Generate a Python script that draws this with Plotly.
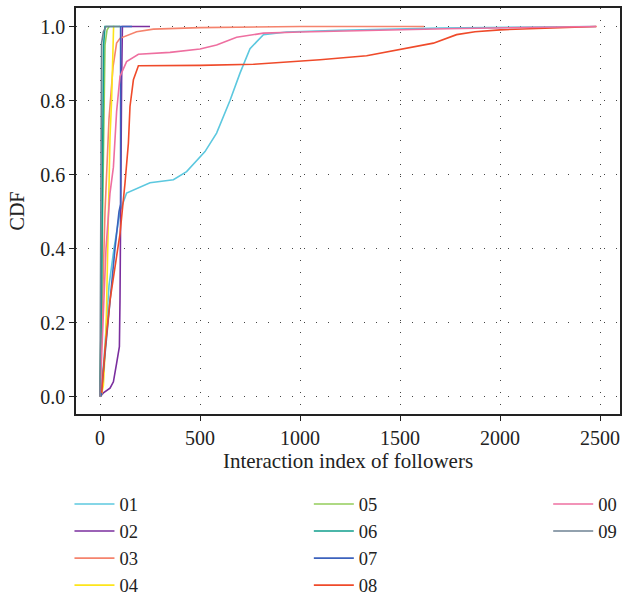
import plotly.graph_objects as go

# Empirical CDF curves of the follower interaction index, one per series
series_names = ["01", "02", "03", "04", "05", "06", "07", "08", "00", "09"]

x_01 = [0, 20, 45, 70, 100, 133, 250, 367, 433, 525, 583, 650, 700, 750, 817, 933, 1200, 1700, 2480]
y_01 = [0.0, 0.10, 0.30, 0.40, 0.50, 0.55, 0.578, 0.586, 0.608, 0.662, 0.712, 0.80, 0.874, 0.94, 0.978, 0.985, 0.99, 0.996, 1.0]

x_02 = [0, 17, 50, 67, 83, 97, 100, 103, 108, 112, 250]
y_02 = [0.0, 0.01, 0.023, 0.04, 0.09, 0.135, 0.26, 0.53, 0.85, 1.0, 1.0]

x_03 = [0, 10, 25, 45, 65, 83, 100, 183, 267, 500, 1000, 1620]
y_03 = [0.0, 0.20, 0.50, 0.75, 0.89, 0.955, 0.968, 0.986, 0.993, 0.997, 1.0, 1.0]

x_04 = [5, 17, 30, 42, 50, 58, 65, 68, 72]
y_04 = [0.0, 0.03, 0.17, 0.53, 0.70, 0.80, 0.95, 1.0, 1.0]

x_05 = [0, 10, 18, 25, 35, 45]
y_05 = [0.0, 0.40, 0.80, 0.95, 0.99, 1.0]

x_06 = [0, 8, 14, 18, 25, 100]
y_06 = [0.0, 0.30, 0.70, 0.95, 1.0, 1.0]

x_07 = [5, 30, 50, 75, 95, 103, 103, 160]
y_07 = [0.0, 0.15, 0.26, 0.40, 0.50, 0.52, 1.0, 1.0]

x_08 = [8, 25, 50, 100, 125, 142, 150, 167, 192, 500, 767, 1000, 1100, 1333, 1500, 1667, 1783, 1875, 2000, 2483]
y_08 = [0.01, 0.126, 0.26, 0.44, 0.577, 0.685, 0.784, 0.856, 0.894, 0.895, 0.898, 0.905, 0.91, 0.921, 0.937, 0.955, 0.978, 0.986, 0.991, 1.0]

x_00 = [0, 15, 30, 50, 67, 83, 100, 133, 192, 350, 500, 583, 683, 817, 1000, 1733, 2480]
y_00 = [0.0, 0.20, 0.40, 0.55, 0.62, 0.77, 0.865, 0.905, 0.925, 0.93, 0.939, 0.95, 0.971, 0.982, 0.985, 0.994, 1.0]

x_09 = [0, 4, 8, 17, 30, 100]
y_09 = [0.0, 0.50, 0.955, 0.986, 1.0, 1.0]

series_x = [x_01, x_02, x_03, x_04, x_05, x_06, x_07, x_08, x_00, x_09]
series_y = [y_01, y_02, y_03, y_04, y_05, y_06, y_07, y_08, y_00, y_09]
series_colors = ["#5cc8df", "#7a2e9e", "#f5836d", "#fde51a", "#93cc5a",
                 "#0f9e8c", "#3c62bd", "#ef4a2a", "#ee6fa0", "#6e8293"]
legend_groups = ["legend", "legend", "legend", "legend",
                 "legend2", "legend2", "legend2", "legend2",
                 "legend3", "legend3"]

x_ticks = [0, 500, 1000, 1500, 2000, 2500]
y_ticks = [0.0, 0.2, 0.4, 0.6, 0.8, 1.0]
y_tick_labels = ["0.0", "0.2", "0.4", "0.6", "0.8", "1.0"]

FONT = "Liberation Serif"
INK = "#222"

fig = go.Figure()
for name, xs, ys, col, lg in zip(series_names, series_x, series_y, series_colors, legend_groups):
    fig.add_trace(go.Scatter(x=xs, y=ys, mode="lines", name=name,
                             line=dict(color=col, width=1.6), legend=lg))

axis_common = dict(
    showline=True, linecolor=INK, linewidth=1.5, mirror=True,
    ticks="outside", ticklen=5, tickwidth=1.2, tickcolor=INK,
    showgrid=True, gridcolor="#444", gridwidth=1.3, griddash="1px,11px",
    zeroline=False,
    tickfont=dict(family=FONT, size=20, color=INK),
)

fig.update_xaxes(range=[-120, 2600], tickvals=x_ticks,
                 title=dict(text="Interaction index of followers",
                            font=dict(family=FONT, size=21, color=INK), standoff=6),
                 **axis_common)
fig.update_yaxes(range=[-0.047, 1.05], tickvals=y_ticks, ticktext=y_tick_labels,
                 title=dict(text="CDF", font=dict(family=FONT, size=20, color=INK), standoff=10),
                 **axis_common)

legend_style = dict(orientation="v", yanchor="top", xanchor="left",
                    font=dict(family=FONT, size=18.5, color=INK),
                    bgcolor="rgba(0,0,0,0)", tracegroupgap=0, itemwidth=40)
fig.update_layout(
    width=622, height=597,
    margin=dict(l=76, r=2, t=8, b=183, autoexpand=False),
    plot_bgcolor="white", paper_bgcolor="white",
    legend=dict(x=-0.012, y=-0.176, **legend_style),
    legend2=dict(x=0.428, y=-0.176, **legend_style),
    legend3=dict(x=0.868, y=-0.176, **legend_style),
)

fig.write_html("out.html")
